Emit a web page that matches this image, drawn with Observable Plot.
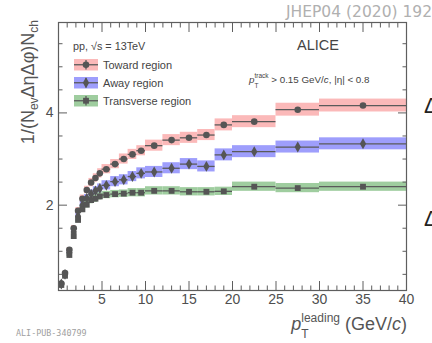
<!DOCTYPE html>
<html><head><meta charset="utf-8">
<script src="https://cdn.jsdelivr.net/npm/d3@7"></script>
<script src="https://cdn.jsdelivr.net/npm/@observablehq/plot@0.6"></script>
<style>
body{margin:0;background:#fff;}
#chart{position:relative;width:432px;height:343px;overflow:hidden;}
</style></head><body><div id="chart"></div>
<script>
// pT leading bins (GeV/c)
const binLow  = [0.15,0.5,1,1.5,2,2.5,3,3.5,4,4.5,5,6,7,8,9,10,12,14,16,18,20,25,30];
const binHigh = [0.5,1,1.5,2,2.5,3,3.5,4,4.5,5,6,7,8,9,10,12,14,16,18,20,25,30,40];
// 1/(Nev Δη Δφ) Nch
const toward     = [0.30,0.53,1.03,1.50,1.88,2.14,2.33,2.49,2.59,2.69,2.78,2.89,3.00,3.10,3.18,3.29,3.41,3.46,3.52,3.74,3.81,4.07,4.16];
const away       = [0.29,0.50,0.97,1.42,1.76,2.00,2.15,2.24,2.31,2.36,2.43,2.51,2.55,2.62,2.69,2.72,2.80,2.89,2.84,3.09,3.16,3.26,3.33];
const transverse = [0.27,0.47,0.92,1.33,1.68,1.91,2.01,2.11,2.14,2.19,2.22,2.24,2.25,2.27,2.27,2.31,2.31,2.29,2.29,2.30,2.40,2.37,2.40];
// systematic uncertainties (band half-heights)
const towardSys     = [0.02,0.03,0.05,0.06,0.07,0.08,0.08,0.09,0.09,0.10,0.10,0.10,0.11,0.11,0.11,0.12,0.12,0.12,0.12,0.13,0.13,0.14,0.14];
const awaySys       = [0.02,0.03,0.05,0.06,0.07,0.08,0.08,0.09,0.09,0.10,0.10,0.11,0.11,0.11,0.12,0.12,0.12,0.12,0.12,0.13,0.13,0.13,0.13];
const transverseSys = [0.02,0.03,0.04,0.05,0.06,0.07,0.07,0.08,0.08,0.08,0.08,0.08,0.08,0.09,0.09,0.09,0.09,0.09,0.09,0.09,0.10,0.10,0.10];
// statistical uncertainties
const towardStat     = [0.01,0.01,0.01,0.01,0.01,0.01,0.01,0.01,0.01,0.01,0.01,0.01,0.01,0.01,0.01,0.01,0.02,0.02,0.02,0.02,0.02,0.02,0.03];
const awayStat       = [0.01,0.01,0.01,0.02,0.02,0.02,0.02,0.02,0.02,0.02,0.03,0.03,0.03,0.03,0.03,0.03,0.03,0.03,0.03,0.03,0.03,0.03,0.03];
const transverseStat = [0.01,0.01,0.01,0.01,0.01,0.01,0.01,0.01,0.01,0.01,0.01,0.01,0.01,0.01,0.01,0.01,0.01,0.01,0.01,0.01,0.01,0.01,0.02];

const regions = ["Toward region","Away region","Transverse region"];
const bandColors = ["#fbb9b9","#9e9efc","#9fcd9f"];
const markerSymbols = ["circle","diamond","square"];

const xMajorTicks = [5,10,15,20,25,30,35,40];
const xMinorTicks = [1,2,3,4,6,7,8,9,11,12,13,14,16,17,18,19,21,22,23,24,26,27,28,29,31,32,33,34,36,37,38,39];
const yMajorTicks = [2,4];
const yMinorTicks = [0.5,1,1.5,2.5,3,3.5,4.5,5,5.5];

const series = [
  {vals: toward, sys: towardSys, stat: towardStat},
  {vals: away, sys: awaySys, stat: awayStat},
  {vals: transverse, sys: transverseSys, stat: transverseStat}
];
const rows = [];
series.forEach((s, k) => s.vals.forEach((v, i) => rows.push({
  region: regions[k], lo: binLow[i], hi: binHigh[i], x: (binLow[i] + binHigh[i]) / 2,
  y: v, sys: s.sys[i], stat: s.stat[i]
})));

const axisColor = "#5e5e5e";
const font = "'Liberation Sans', Arial, Helvetica, sans-serif";

const chart = Plot.plot({
  width: 432, height: 343,
  marginLeft: 58, marginRight: 26, marginTop: 22, marginBottom: 53,
  style: {fontFamily: font, background: "white", overflow: "visible"},
  x: {domain: [0, 40], axis: null},
  y: {domain: [0.15, 5.96], axis: null},
  color: {domain: regions, range: bandColors},
  symbol: {domain: regions, range: markerSymbols},
  marks: [
    Plot.rect(rows, {x1: "lo", x2: "hi", y1: d => d.y - d.sys, y2: d => d.y + d.sys, fill: "region"}),
    Plot.ruleY(rows, {x1: "lo", x2: "hi", y: "y", stroke: "#5a5a5a", strokeWidth: 1.3}),
    Plot.ruleX(rows, {x: "x", y1: d => d.y - d.stat, y2: d => d.y + d.stat, stroke: "#5a5a5a", strokeWidth: 1.3}),
    Plot.dot(rows, {x: "x", y: "y", symbol: "region", fill: "#555", r: 3.3}),
    // ticks (inward, all four sides)
    Plot.axisX(xMajorTicks, {anchor: "bottom", tickSize: -9, fill: "none", stroke: axisColor, label: null}),
    Plot.axisX(xMinorTicks, {anchor: "bottom", tickSize: -4.5, fill: "none", stroke: axisColor, label: null}),
    Plot.axisX(xMajorTicks, {anchor: "top", tickSize: -9, fill: "none", stroke: axisColor, label: null}),
    Plot.axisX(xMinorTicks, {anchor: "top", tickSize: -4.5, fill: "none", stroke: axisColor, label: null}),
    Plot.axisY(yMajorTicks, {anchor: "left", tickSize: -9, fill: "none", stroke: axisColor, label: null}),
    Plot.axisY(yMinorTicks, {anchor: "left", tickSize: -4.5, fill: "none", stroke: axisColor, label: null}),
    Plot.axisY(yMajorTicks, {anchor: "right", tickSize: -9, fill: "none", stroke: axisColor, label: null}),
    Plot.axisY(yMinorTicks, {anchor: "right", tickSize: -4.5, fill: "none", stroke: axisColor, label: null}),
    // tick labels
    Plot.axisX(xMajorTicks, {anchor: "bottom", tickSize: 0, tickPadding: 4, fontSize: 14, fill: "#4f4f4f", label: null}),
    Plot.axisY(yMajorTicks, {anchor: "left", tickSize: 0, tickPadding: 5, fontSize: 14, fill: "#4f4f4f", label: null}),
    Plot.frame({stroke: axisColor, strokeWidth: 1.2})
  ]
});
document.getElementById("chart").appendChild(chart);

const svg = d3.select(chart);
function txt(x, y, size, fill, family) {
  return svg.append("text").attr("x", x).attr("y", y).attr("text-anchor", "start")
    .attr("font-size", size).attr("fill", fill).attr("font-family", family || font);
}

// journal reference
txt(286, 17, 15.5, "#b0b0b0", "'DejaVu Sans', sans-serif").text("JHEP04 (2020) 192");
// neighbouring panel glyphs cut at right edge
txt(424, 113, 22, "#222", font).text("Δ");
txt(424, 226, 22, "#222", font).text("Δ");
// publication id
txt(16, 336, 8.4, "#a0a0a0", "'DejaVu Sans Mono', 'Liberation Mono', monospace").text("ALI-PUB-340799");

// y-axis title (rotated)
{
  const t = svg.append("text").attr("transform", "translate(34,20) rotate(-90)")
    .attr("text-anchor", "end").attr("font-size", 18).attr("fill", "#555").attr("font-family", font);
  t.append("tspan").text("1/(N");
  t.append("tspan").attr("font-size", 12).attr("dy", 4).text("ev");
  t.append("tspan").attr("dy", -4).text("ΔηΔφ)N");
  t.append("tspan").attr("font-size", 12).attr("dy", 4).text("ch");
}
// x-axis title: p_T^leading (GeV/c)
{
  const t = txt(407, 330, 18, "#555").attr("text-anchor", "end");
  t.append("tspan").attr("font-style", "italic").text("p");
  t.append("tspan").attr("font-size", 12).attr("dy", 8).text("T");
  t.append("tspan").attr("font-size", 12).attr("dx", -7.3).attr("dy", -16).text("leading");
  t.append("tspan").attr("dy", 8).text(" (GeV/");
  t.append("tspan").attr("font-style", "italic").text("c");
  t.append("tspan").text(")");
}
// in-frame labels
txt(73, 50, 10.8, "#444").text("pp, √s = 13TeV");
txt(297, 50, 14.5, "#444").text("ALICE");
{
  const t = txt(249, 83, 9.8, "#444");
  t.append("tspan").attr("font-style", "italic").text("p");
  t.append("tspan").attr("font-size", 6.5).attr("dy", 5).text("T");
  t.append("tspan").attr("font-size", 6.5).attr("dx", -4).attr("dy", -10).text("track");
  t.append("tspan").attr("dy", 5).text(" > 0.15 GeV/");
  t.append("tspan").attr("font-style", "italic").text("c");
  t.append("tspan").text(", |η| < 0.8");
}
// legend
const legendTop = [59, 77, 95];
regions.forEach((name, k) => {
  const y0 = legendTop[k], h = 11.5, x0 = 74, w = 24;
  const g = svg.append("g");
  g.append("rect").attr("x", x0).attr("y", y0).attr("width", w).attr("height", h).attr("fill", bandColors[k]);
  g.append("line").attr("x1", x0).attr("x2", x0 + w).attr("y1", y0 + h / 2).attr("y2", y0 + h / 2)
    .attr("stroke", "#5a5a5a").attr("stroke-width", 1.3);
  g.append("line").attr("x1", x0 + w / 2).attr("x2", x0 + w / 2).attr("y1", y0 + 1).attr("y2", y0 + h - 1)
    .attr("stroke", "#5a5a5a").attr("stroke-width", 1.3);
  const sym = d3.symbol(k === 0 ? d3.symbolCircle : k === 1 ? d3.symbolDiamond : d3.symbolSquare, Math.PI * 3.3 * 3.3);
  g.append("path").attr("d", sym()).attr("transform", `translate(${x0 + w / 2},${y0 + h / 2})`).attr("fill", "#555");
  txt(103, y0 + 9.8, 11, "#444").text(name);
});
</script></body></html>
